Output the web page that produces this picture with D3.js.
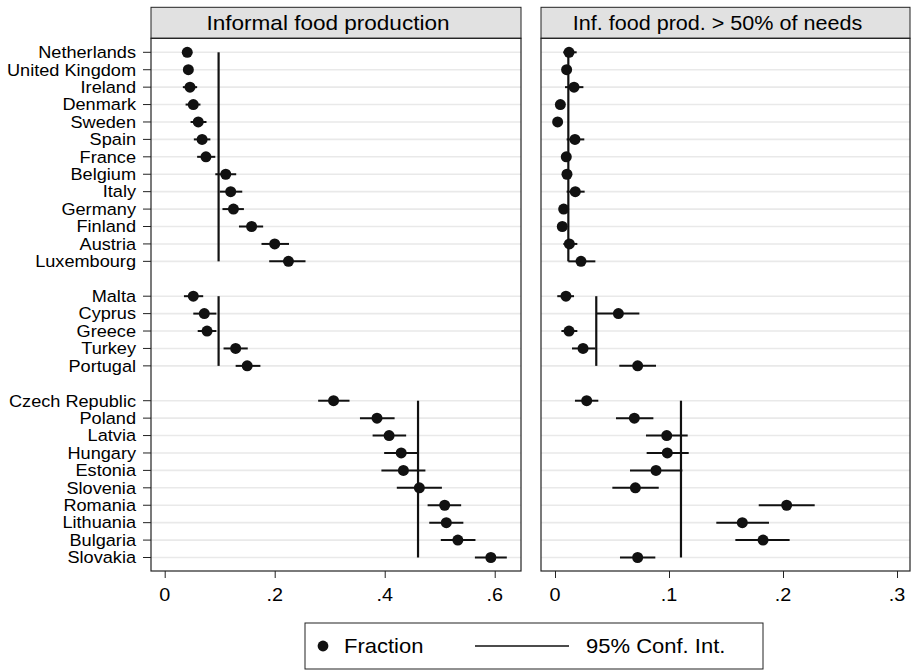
<!DOCTYPE html>
<html>
<head>
<meta charset="utf-8">
<script src="https://cdn.jsdelivr.net/npm/d3@7"></script>
<style>
    body { margin: 0; background: #fff; }
    text { font-family: "Liberation Sans", Arial, Helvetica, sans-serif; fill: #000; }
</style>
</head>
<body>
<svg id="chart" width="911" height="670"></svg>
<script>
// country groups (top to bottom)
const group1 = ["Netherlands", "United Kingdom", "Ireland", "Denmark", "Sweden", "Spain", "France",
    "Belgium", "Italy", "Germany", "Finland", "Austria", "Luxembourg"];
const group2 = ["Malta", "Cyprus", "Greece", "Turkey", "Portugal"];
const group3 = ["Czech Republic", "Poland", "Latvia", "Hungary", "Estonia", "Slovenia",
    "Romania", "Lithuania", "Bulgaria", "Slovakia"];

// Informal food production: fraction and 95% CI
const fracA = [0.041, 0.043, 0.046, 0.052, 0.061, 0.068, 0.075, 0.111, 0.120, 0.125, 0.158, 0.200, 0.225,
    0.052, 0.072, 0.077, 0.129, 0.150,
    0.307, 0.386, 0.408, 0.430, 0.434, 0.463, 0.509, 0.512, 0.533, 0.593];
const loA = [0.034, 0.036, 0.033, 0.038, 0.047, 0.053, 0.059, 0.092, 0.100, 0.105, 0.135, 0.176, 0.190,
    0.035, 0.052, 0.060, 0.107, 0.129,
    0.279, 0.355, 0.378, 0.399, 0.394, 0.422, 0.478, 0.481, 0.502, 0.564];
const hiA = [0.049, 0.050, 0.059, 0.065, 0.076, 0.083, 0.092, 0.130, 0.141, 0.144, 0.179, 0.226, 0.256,
    0.070, 0.094, 0.094, 0.151, 0.174,
    0.336, 0.418, 0.439, 0.460, 0.474, 0.504, 0.539, 0.543, 0.565, 0.622];
const meanA = [0.098, 0.098, 0.4606];

// Inf. food prod. > 50% of needs
const fracB = [0.0123, 0.0102, 0.0167, 0.0047, 0.0023, 0.0175, 0.0099, 0.0105, 0.0178, 0.0076, 0.0064, 0.0126, 0.0228,
    0.0096, 0.0556, 0.0123, 0.0246, 0.0725,
    0.0278, 0.0696, 0.0980, 0.0985, 0.0886, 0.0705, 0.2032, 0.1643, 0.1825, 0.0725];
const loB = [0.0073, 0.0060, 0.0088, 0.0020, 0.0005, 0.0102, 0.0060, 0.0065, 0.0102, 0.0040, 0.0030, 0.0073, 0.0117,
    0.0020, 0.0363, 0.0056, 0.0149, 0.0564,
    0.0175, 0.0535, 0.0798, 0.0804, 0.0658, 0.0503, 0.1787, 0.1415, 0.1582, 0.0570];
const hiB = [0.0190, 0.0145, 0.0249, 0.0075, 0.0040, 0.0257, 0.0140, 0.0145, 0.0260, 0.0110, 0.0098, 0.0196, 0.0354,
    0.0167, 0.0740, 0.0196, 0.0354, 0.0886,
    0.0380, 0.0863, 0.1164, 0.1173, 0.1117, 0.0910, 0.2278, 0.1877, 0.2058, 0.0880];
const meanB = [0.0117, 0.0362, 0.1105];

const ticksA = [0, 0.2, 0.4, 0.6];
const ticksB = [0, 0.1, 0.2, 0.3];
const titles = ["Informal food production", "Inf. food prod. > 50% of needs"];
const legendLabels = ["Fraction", "95% Conf. Int."];

const STRETCH = 1.1; // glyphs in the original are a bit wider than tall

const svg = d3.select("#chart");

// build row list: one empty slot between groups
const groups = [group1, group2, group3];
const rows = [];
const groupRange = [];
let slot = 0;
groups.forEach((g, gi) => {
    const start = slot;
    g.forEach(name => { rows.push({ name: name, slot: slot, group: gi }); slot++; });
    groupRange.push([start, slot - 1]);
    slot++; // gap
});

const plotTop = 38.3, plotBottom = 571, headTop = 7.3;
const y = d3.scaleLinear().domain([0, 29]).range([52.3, 557.5]);

function stretchText(sel, x, yy, anchor, size, sx) {
    return sel.append("text")
        .attr("transform", `translate(${x},${yy}) scale(${sx},1)`)
        .attr("text-anchor", anchor)
        .attr("font-size", size);
}

function fmtTick(v) {
    if (v === 0) return "0";
    return d3.format(".1f")(v).replace(/^0/, "");
}

function drawPanel(x0, x1, domain, frac, lo, hi, means, ticks, title, titleSize) {
    const x = d3.scaleLinear().domain(domain).range([x0, x1]);
    const g = svg.append("g");

    // header strip (title sits a little left of centre in the original)
    g.append("rect")
        .attr("x", x0).attr("y", headTop)
        .attr("width", x1 - x0).attr("height", plotTop - headTop)
        .attr("fill", "#e1e1e1").attr("stroke", "#222").attr("stroke-width", 1);
    stretchText(g, (x0 + x1) / 2 - 8, plotTop - 8.5, "middle", titleSize, STRETCH).text(title);

    // grid lines at each country
    g.selectAll("line.grid")
        .data(rows)
        .enter().append("line")
        .attr("x1", x0).attr("x2", x1)
        .attr("y1", d => y(d.slot)).attr("y2", d => y(d.slot))
        .attr("stroke", "#e9e9e9").attr("stroke-width", 1.6);

    // group reference lines
    groupRange.forEach((r, i) => {
        g.append("line")
            .attr("x1", x(means[i])).attr("x2", x(means[i]))
            .attr("y1", y(r[0])).attr("y2", y(r[1]))
            .attr("stroke", "#111").attr("stroke-width", 2.2);
    });

    // confidence intervals
    g.selectAll("line.ci")
        .data(rows)
        .enter().append("line")
        .attr("x1", (d, i) => x(lo[i])).attr("x2", (d, i) => x(hi[i]))
        .attr("y1", d => y(d.slot)).attr("y2", d => y(d.slot))
        .attr("stroke", "#111").attr("stroke-width", 2);

    // point estimates
    g.selectAll("circle")
        .data(rows)
        .enter().append("circle")
        .attr("cx", (d, i) => x(frac[i]))
        .attr("cy", d => y(d.slot))
        .attr("r", 5.5)
        .attr("fill", "#111");

    // frame
    g.append("rect")
        .attr("x", x0).attr("y", plotTop)
        .attr("width", x1 - x0).attr("height", plotBottom - plotTop)
        .attr("fill", "none").attr("stroke", "#222").attr("stroke-width", 1.2);

    // x axis
    const axis = g.append("g").attr("transform", `translate(0,${plotBottom})`)
        .call(d3.axisBottom(x).tickValues(ticks).tickSize(7).tickFormat(fmtTick));
    axis.select(".domain").remove();
    axis.selectAll(".tick line").attr("stroke", "#222");
    axis.selectAll(".tick text").remove();
    ticks.forEach(t => {
        stretchText(g, x(t), plotBottom + 30, "middle", 18, STRETCH).text(fmtTick(t));
    });

    return x;
}

drawPanel(151, 521, [-0.0249, 0.6478], fracA, loA, hiA, meanA, ticksA, titles[0], 20.5);
drawPanel(541, 910, [-0.01228, 0.3114], fracB, loB, hiB, meanB, ticksB, titles[1], 19.6);

// y axis labels on the left panel
const yAxis = svg.append("g").attr("transform", "translate(151,0)");
yAxis.selectAll("line")
    .data(rows)
    .enter().append("line")
    .attr("x1", -8).attr("x2", 0)
    .attr("y1", d => y(d.slot)).attr("y2", d => y(d.slot))
    .attr("stroke", "#222");
rows.forEach(d => {
    stretchText(yAxis, -15, y(d.slot) + 5.8, "end", 16.5, STRETCH).text(d.name);
});

// legend
const legend = svg.append("g");
legend.append("rect")
    .attr("x", 305).attr("y", 623)
    .attr("width", 458).attr("height", 46)
    .attr("fill", "#fff").attr("stroke", "#222").attr("stroke-width", 1);
legend.append("circle")
    .attr("cx", 323).attr("cy", 646).attr("r", 5.4).attr("fill", "#111");
stretchText(legend, 344, 653, "start", 20, STRETCH).text(legendLabels[0]);
legend.append("line")
    .attr("x1", 475).attr("x2", 569).attr("y1", 646).attr("y2", 646)
    .attr("stroke", "#111").attr("stroke-width", 1.6);
stretchText(legend, 586, 653, "start", 20, STRETCH).text(legendLabels[1]);
</script>
</body>
</html>
